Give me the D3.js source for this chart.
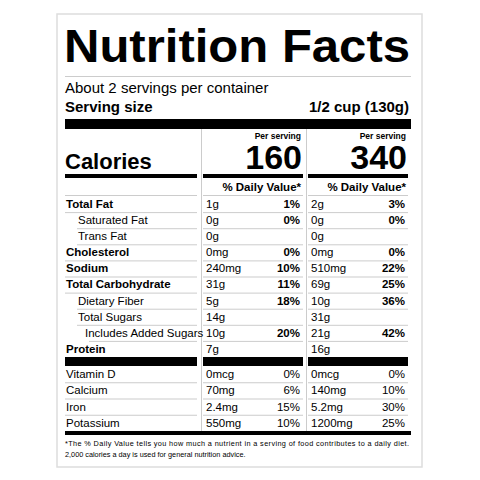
<!DOCTYPE html>
<html><head><meta charset="utf-8">
<script src="https://cdn.jsdelivr.net/npm/d3@7.9.0/dist/d3.min.js"></script>
<style>body{margin:0;background:#fff}svg{font-family:"Liberation Sans",Arial,sans-serif}</style>
</head><body><svg width="480" height="480"></svg>
<script>
const nutrients = ['Total Fat','Saturated Fat','Trans Fat','Cholesterol','Sodium','Total Carbohydrate','Dietary Fiber','Total Sugars','Includes Added Sugars','Protein'];
const indent = [0,1,1,0,0,0,1,1,2,0];
const amount1 = ['1g','0g','0g','0mg','240mg','31g','5g','14g','10g','7g'];
const dv1 = ['1%','0%','','0%','10%','11%','18%','','20%',''];
const amount2 = ['2g','0g','0g','0mg','510mg','69g','10g','31g','21g','16g'];
const dv2 = ['3%','0%','','0%','22%','25%','36%','','42%',''];
const vitamins = ['Vitamin D','Calcium','Iron','Potassium'];
const vAmount1 = ['0mcg','70mg','2.4mg','550mg'];
const vDv1 = ['0%','6%','15%','10%'];
const vAmount2 = ['0mcg','140mg','5.2mg','1200mg'];
const vDv2 = ['0%','10%','30%','25%'];
const calories = [160, 340];

const svg = d3.select('svg');
const gray = '#ccc';
svg.append('rect').attr('x',57).attr('y',14).attr('width',365).attr('height',453)
  .attr('fill','#fff').attr('stroke','#ddd').attr('stroke-width',1.5);

const txt = (x,y,s,size,weight,anchor) => svg.append('text').attr('x',x).attr('y',y)
  .attr('font-size',size).attr('font-weight',weight||'normal')
  .attr('text-anchor',anchor||'start').text(s);
const rect = (x,y,w,h,c) => svg.append('rect').attr('x',x).attr('y',y).attr('width',w).attr('height',h).attr('fill',c||'#000');

txt(64,62,'Nutrition Facts',46,'bold').attr('textLength',346).attr('lengthAdjust','spacingAndGlyphs');
rect(65,76,346,1,gray);
txt(65,93,'About 2 servings per container',15);
txt(65,112,'Serving size',15,'bold');
txt(409,112,'1/2 cup (130g)',15,'bold','end');
rect(65,119,346,10);

const cols = [{x:203,w:100},{x:308,w:100}];
[201,306].forEach(x => rect(x,129,1,302,gray));

txt(65,169,'Calories',22,'bold');
cols.forEach((c,i) => {
  txt(c.x+c.w-2,139,'Per serving',8.5,'bold','end');
  txt(c.x+c.w-1,169,calories[i],34,'bold','end');
  rect(c.x,174,c.w,4);
  txt(c.x+c.w-2,191,'% Daily Value*',11.5,'bold','end');
});
rect(65,174,132,4);
rect(65,195,132,1,gray);
cols.forEach(c => rect(c.x,195,c.w,1,gray));

const fs = 11.5;
const y = d3.scaleBand().domain(nutrients).range([196,357]);
const boldSet = new Set(['Total Fat','Cholesterol','Sodium','Total Carbohydrate','Protein']);
nutrients.forEach((n,i) => {
  const yy = y(n) + y.bandwidth()*0.74;
  txt(66 + indent[i]*12 + (indent[i]===2?-5:0), yy, n, fs, boldSet.has(n)?'bold':'normal');
  txt(206,yy,amount1[i],fs); txt(300,yy,dv1[i],fs,'bold','end');
  txt(311,yy,amount2[i],fs); txt(405,yy,dv2[i],fs,'bold','end');
  if (i < nutrients.length-1) {
    const ly = y(n)+y.bandwidth();
    rect(65 + indent[i]*12,ly,197-65-indent[i]*12,1,gray);
    cols.forEach(c => rect(c.x,ly,c.w,1,gray));
  }
});
rect(65,357,132,9); cols.forEach(c => rect(c.x,357,c.w,9));

const yv = d3.scaleBand().domain(vitamins).range([366,431]);
vitamins.forEach((v,i) => {
  const yy = yv(v) + yv.bandwidth()*0.74;
  txt(66,yy,v,fs);
  txt(206,yy,vAmount1[i],fs); txt(300,yy,vDv1[i],fs,'normal','end');
  txt(311,yy,vAmount2[i],fs); txt(405,yy,vDv2[i],fs,'normal','end');
  if (i < vitamins.length-1) {
    const ly = yv(v)+yv.bandwidth();
    rect(65,ly,132,1,gray); cols.forEach(c => rect(c.x,ly,c.w,1,gray));
  }
});
rect(65,431,346,4);
txt(65,446,'*The % Daily Value tells you how much a nutrient in a serving of food contributes to a daily diet.',7.3).attr('textLength',344);
txt(65,457,'2,000 calories a day is used for general nutrition advice.',7.3);
</script></body></html>
